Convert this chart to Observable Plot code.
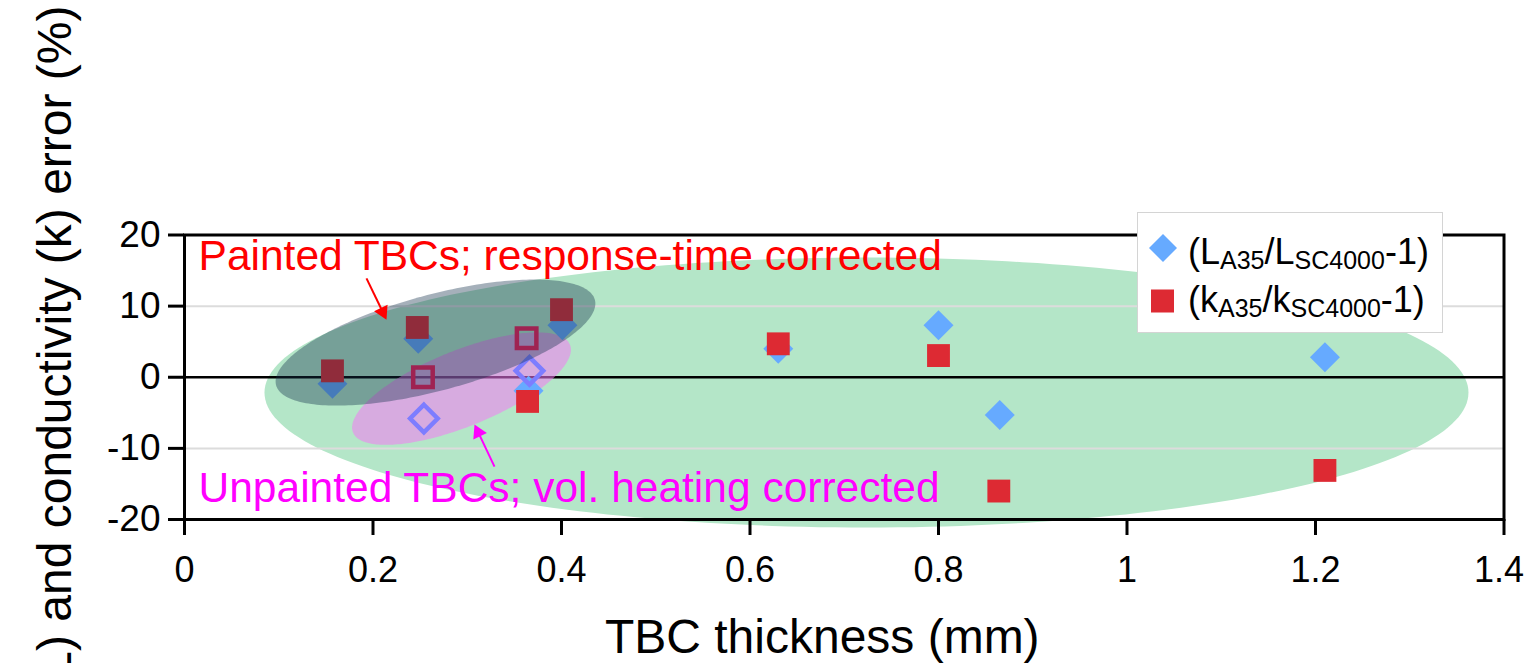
<!DOCTYPE html>
<html>
<head>
<meta charset="utf-8">
<script src="https://cdn.jsdelivr.net/npm/d3@7"></script>
<script src="https://cdn.jsdelivr.net/npm/@observablehq/plot@0.6"></script>
<style>
  html, body { margin: 0; padding: 0; background: #fff; }
  #wrap { position: relative; width: 1525px; height: 663px; overflow: hidden; font-family: "Liberation Sans", Arial, sans-serif; }
  #legend { position: absolute; left: 1137px; top: 212px; width: 306px; height: 121px; background: #fff; border: 1px solid #d4d4d4; box-sizing: border-box; }
</style>
</head>
<body>
<div id="wrap"></div>
<script>
// ---------- data ----------
const xTicks = [0, 0.2, 0.4, 0.6, 0.8, 1, 1.2, 1.4];
const xTickLabels = ["0", "0.2", "0.4", "0.6", "0.8", "1", "1.2", "1.4"];
const yTicks = [-20, -10, 0, 10, 20];
const yTickLabels = ["-20", "-10", "0", "10", "20"];

// filled diamonds: (L_A35/L_SC4000 - 1)
const thickL = [0.157, 0.248, 0.401, 0.365, 0.63, 0.80, 0.865, 1.21];
const errL   = [-0.9, 5.4, 7.3, -1.9, 4.0, 7.3, -5.3, 2.8];
// filled squares: (k_A35/k_SC4000 - 1)
const thickK = [0.157, 0.247, 0.400, 0.364, 0.63, 0.80, 0.864, 1.21];
const errK   = [0.9, 7.0, 9.5, -3.4, 4.7, 3.05, -16.0, -13.1];
// open diamonds / squares (unpainted, vol. heating corrected)
const thickLu = [0.254, 0.366];
const errLu   = [-5.8, 0.9];
const thickKu = [0.253, 0.363];
const errKu   = [0.0, 5.5];

const xTitle = "TBC thickness (mm)";
const yTitle = "Thickness (L) and conductivity (k) error (%)";
const notePainted = "Painted TBCs; response-time corrected";
const noteUnpainted = "Unpainted TBCs; vol. heating corrected";

// ---------- layout ----------
const W = 1525, H = 663;
const mL = 184, mR = 21.5, mT = 234.5, mB = 144;
const xDom = [0, 1.4], yDom = [-20, 20];
const kx = (W - mL - mR) / (xDom[1] - xDom[0]);   // px per x unit
const ky = (H - mT - mB) / (yDom[1] - yDom[0]);   // px per y unit

// ellipse annotations: centre in data units, semi-axes in px, tilt in degrees
function ellipse(cx, cy, a, b, deg, n = 240) {
  const p = deg * Math.PI / 180, pts = [];
  for (let i = 0; i < n; i++) {
    const t = 2 * Math.PI * i / n;
    const dx = a * Math.cos(t) * Math.cos(p) - b * Math.sin(t) * Math.sin(p);
    const dy = a * Math.cos(t) * Math.sin(p) + b * Math.sin(t) * Math.cos(p);
    pts.push({x: cx + dx / kx, y: cy + dy / ky});
  }
  return pts;
}
const greenEll = ellipse(0.7236, -2.15, 602, 135, 0);
const darkEll  = ellipse(0.2663, 4.88, 165, 48, 15);
const pinkEll  = ellipse(0.2939, -1.6, 117, 38, 22);

// arrows: tail -> tip in data units
const arrows = [
  {x1: 0.1931, y1: 13.9, x2: 0.2143, y2: 8.1, color: "#ff0000"},
  {x1: 0.3289, y1: -12.56, x2: 0.3077, y2: -6.65, color: "#ff00ff"}
];
const headLen = 13;
const arrowShafts = [], arrowHeads = [];
for (const a of arrows) {
  const px = (a.x2 - a.x1) * kx, py = -(a.y2 - a.y1) * ky;
  const L = Math.hypot(px, py), ux = px / L, uy = py / L;
  const back = headLen * 2 / 3;
  const cx = a.x2 - ux * back / kx, cy = a.y2 + uy * back / ky;
  const rot = Math.atan2(ux, -uy) * 180 / Math.PI;
  arrowShafts.push({x1: a.x1, y1: a.y1, x2: a.x2 - ux * headLen * 0.8 / kx, y2: a.y2 + uy * headLen * 0.8 / ky, color: a.color});
  arrowHeads.push({x: cx, y: cy, rot, color: a.color});
}
const triR = Math.sqrt((headLen / 3) ** 2 * 3 * Math.sqrt(3) / Math.PI);

const notes = [
  {x: 0.0149, y: 15.1, text: notePainted, color: "#ff0000"},
  {x: 0.0149, y: -17.6, text: noteUnpainted, color: "#ff00ff"}
];

const ptsL = thickL.map((x, i) => ({x, y: errL[i]}));
const ptsK = thickK.map((x, i) => ({x, y: errK[i]}));
const ptsLu = thickLu.map((x, i) => ({x, y: errLu[i]}));
const ptsKu = thickKu.map((x, i) => ({x, y: errKu[i]}));

const font = "Liberation Sans, Arial, Helvetica, sans-serif";
const lastX = xTicks[xTicks.length - 1];
const xLabelOf = d => d === lastX ? "" : xTickLabels[xTicks.indexOf(d)];

const chart = Plot.plot({
  width: W, height: H,
  marginLeft: mL, marginRight: mR, marginTop: mT, marginBottom: mB,
  style: {fontFamily: font, background: "transparent", color: "black"},
  x: {domain: xDom, axis: null},
  y: {domain: yDom, axis: null},
  marks: [
    Plot.line(greenEll, {x: "x", y: "y", curve: "linear-closed", fill: "#b4e6c8", stroke: "none"}),
    Plot.ruleY([-10, 10], {stroke: "#dcdcdc", strokeWidth: 2}),
    Plot.ruleY([0], {stroke: "black", strokeWidth: 2.5}),
    Plot.line(pinkEll, {x: "x", y: "y", curve: "linear-closed", fill: "#f47af4", fillOpacity: 0.55, stroke: "none"}),
    Plot.dot(ptsL, {x: "x", y: "y", symbol: "diamond2", r: 13.5, fill: "#66aaff", stroke: "none"}),
    Plot.dot(ptsLu, {x: "x", y: "y", symbol: "diamond2", r: 12.4, fill: "none", stroke: "#7d7dff", strokeWidth: 4.5}),
    Plot.dot(ptsK, {x: "x", y: "y", symbol: "square", r: 12.9, fill: "#dd2a33", stroke: "none"}),
    Plot.dot(ptsKu, {x: "x", y: "y", symbol: "square", r: 11, fill: "none", stroke: "#f51c58", strokeWidth: 4.5}),
    Plot.line(darkEll, {x: "x", y: "y", curve: "linear-closed", fill: "#12304a", fillOpacity: 0.38, stroke: "none"}),
    Plot.link(arrowShafts, {x1: "x1", y1: "y1", x2: "x2", y2: "y2", stroke: "color", strokeWidth: 2}),
    Plot.dot(arrowHeads, {x: "x", y: "y", symbol: "triangle", r: triR, rotate: "rot", fill: "color", stroke: "none"}),
    Plot.text(notes, {x: "x", y: "y", text: "text", fill: "color", textAnchor: "start", lineAnchor: "bottom", fontSize: 42.5}),
    Plot.frame({stroke: "black", strokeWidth: 3}),
    Plot.axisX({ticks: xTicks, tickFormat: xLabelOf, tickSize: 16, tickPadding: 21, fontSize: 36, strokeWidth: 3, label: null}),
    Plot.axisX({ticks: [lastX], tickFormat: d => xTickLabels[xTicks.indexOf(d)], tickSize: 0, tickPadding: 37, fontSize: 36, label: null, textAnchor: "end", dx: 20}),
    Plot.axisY({ticks: yTicks, tickFormat: (d, i) => yTickLabels[i], tickSize: 16, tickPadding: 8, fontSize: 37, strokeWidth: 3, label: null}),
    Plot.text([xTitle], {frameAnchor: "bottom", dy: 133, dx: -22, fontSize: 48, lineAnchor: "bottom", fill: "black"}),
    Plot.text([yTitle], {frameAnchor: "top-left", dx: 70 - mL, dy: 5 - mT, rotate: -90, textAnchor: "end", lineAnchor: "bottom", fontSize: 48, fill: "black"})
  ]
});

const wrap = document.getElementById("wrap");
wrap.appendChild(chart);

// legend (inside the plot area, top right)
const legend = document.createElement("div");
legend.id = "legend";
const ns = "http://www.w3.org/2000/svg";
const lsvg = document.createElementNS(ns, "svg");
lsvg.setAttribute("width", 304); lsvg.setAttribute("height", 119);
lsvg.style.fontFamily = font;
const legendItems = [
  {sym: "diamond", color: "#66aaff", main: "L", sub: "A35", main2: "/L", sub2: "SC4000", tail: "-1)"},
  {sym: "square", color: "#dd2a33", main: "k", sub: "A35", main2: "/k", sub2: "SC4000", tail: "-1)"}
];
legendItems.forEach((it, i) => {
  const cy = i === 0 ? 35 : 88;
  const base = i === 0 ? 51 : 99;
  let s;
  if (it.sym === "diamond") {
    s = document.createElementNS(ns, "path");
    s.setAttribute("d", `M25,${cy - 14}L39,${cy}L25,${cy + 14}L11,${cy}Z`);
  } else {
    s = document.createElementNS(ns, "rect");
    s.setAttribute("x", 13); s.setAttribute("y", cy - 11.5);
    s.setAttribute("width", 23); s.setAttribute("height", 23);
  }
  s.setAttribute("fill", it.color);
  lsvg.appendChild(s);
  const t = document.createElementNS(ns, "text");
  t.setAttribute("x", 50); t.setAttribute("y", base);
  t.setAttribute("font-size", 36);
  t.innerHTML = `(${it.main}<tspan font-size="25" dy="5">${it.sub}</tspan><tspan dy="-5">${it.main2}</tspan><tspan font-size="25" dy="5">${it.sub2}</tspan><tspan dy="-5">${it.tail}</tspan>`;
  lsvg.appendChild(t);
});
legend.appendChild(lsvg);
wrap.appendChild(legend);
</script>
</body>
</html>
